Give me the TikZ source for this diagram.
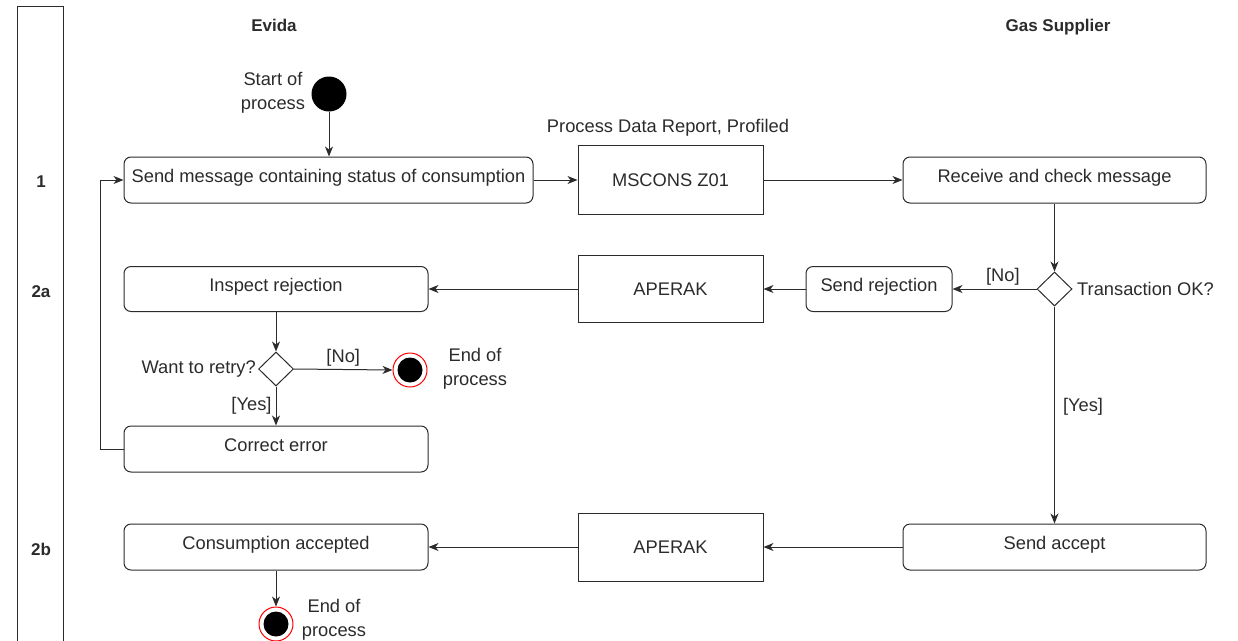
\documentclass[tikz,border=0pt]{standalone}
\usepackage{fontspec}
\setmainfont{Liberation Sans}
\usetikzlibrary{shapes.geometric,arrows.meta}
\definecolor{ink}{HTML}{2B2B2B}
\newcommand{\up}[1]{\raisebox{8pt}{#1}}
\begin{document}
\begin{tikzpicture}[x=1pt,y=-1pt,
  font=\fontsize{18.3}{24}\selectfont, text=ink,
  box/.style={draw=ink, rounded corners=7pt, line width=1pt, inner sep=0},
  msg/.style={draw=ink, line width=1pt, inner sep=0},
  arr/.style={-{Stealth[length=10pt,width=8pt,inset=3pt]}, draw=ink, line width=1pt},
  dec/.style={diamond, draw=ink, line width=1pt, minimum width=35, minimum height=34, inner sep=0, aspect=1},
  endst/.style={circle, draw=red, fill=white, line width=1pt, minimum size=34, inner sep=0},
  lbl/.style={inner sep=0, align=center},
  hdr/.style={inner sep=0, font=\fontsize{17}{23}\selectfont\bfseries}]
\useasboundingbox (0,0) rectangle (1238,640);
% lane
\draw[ink, line width=1pt] (17,6) rectangle (63,642);
\node[hdr] (l1) at (41,182) {1};
\node[hdr] (l2a) at (41,292) {2a};
\node[hdr] (l2b) at (41,549) {2b};
\node[hdr, anchor=base] (h1) at (274,31) {Evida};
\node[hdr, anchor=base] (h2) at (1058,31) {Gas Supplier};
% start
\node[circle, fill=black, minimum size=35, inner sep=0] (start) at (329,94) {};
\node[lbl] (startl) at (273,93) {Start of\\process};
% row 1
\node[box, minimum width=409, minimum height=46] (send) at (328.5,180) {\up{Send message containing status of consumption}};
\node[msg, minimum width=185, minimum height=69] (msc) at (670.5,180) {MSCONS Z01};
\node[lbl] (mscl) at (668,128) {Process Data Report, Profiled};
\node[box, minimum width=303, minimum height=46] (recv) at (1054.5,180) {\up{Receive and check message}};
% row 2a
\node[dec] (d1) at (1054.5,289) {};
\node[lbl, anchor=west] (d1l) at (1077,289) {Transaction OK?};
\node[box, minimum width=146, minimum height=45] (rej) at (879,289) {\up{Send rejection}};
\node[msg, minimum width=185, minimum height=67] (ap1) at (670.5,289) {APERAK};
\node[box, minimum width=304, minimum height=45] (insp) at (276,289) {\up{Inspect rejection}};
\node[dec] (d2) at (276,369) {};
\node[lbl, anchor=east] (d2l) at (256,369) {Want to retry?};
\node[endst] (e1) at (410,370) {};
\fill[black] (e1.center) circle (12.5);
\node[lbl] (e1l) at (475,369) {End of\\process};
\node[box, minimum width=304, minimum height=46] (corr) at (276,449) {\up{Correct error}};
% row 2b
\node[box, minimum width=303, minimum height=46] (acc) at (1054.5,547) {\up{Send accept}};
\node[msg, minimum width=185, minimum height=68] (ap2) at (670.5,547) {APERAK};
\node[box, minimum width=304, minimum height=46] (cons) at (276,547) {\up{Consumption accepted}};
\node[endst] (e2) at (276,624) {};
\fill[black] (e2.center) circle (12.5);
\node[lbl] (e2l) at (334,620) {End of\\process};
% connectors
\draw[arr] (start.south) -- (start.south |- send.north);
\draw[arr] (send.east) -- (msc.west);
\draw[arr] (msc.east) -- (recv.west);
\draw[arr] (recv.south) -- (d1.north);
\draw[arr] (d1.west) -- node[lbl, above=3pt, pos=0.4] (no1) {[No]} (rej.east);
\draw[arr] (rej.west) -- (ap1.east);
\draw[arr] (ap1.west) -- (insp.east);
\draw[arr] (insp.south) -- (d2.north);
\draw[arr] (d2.east) -- node[lbl, above=3pt, pos=0.5] (no2) {[No]} (e1.west);
\draw[arr] (d2.south) -- node[lbl, left=4pt, pos=0.5] (yes2) {[Yes]} (corr.north);
\draw[arr] (corr.west) -- ++(-23,0) |- (send.west);
\draw[arr] (d1.south) -- node[lbl, right=8pt, pos=0.46] (yes1) {[Yes]} (acc.north);
\draw[arr] (acc.west) -- (ap2.east);
\draw[arr] (ap2.west) -- (cons.east);
\draw[arr] (cons.south) -- (e2.north);
\end{tikzpicture}
\end{document}
